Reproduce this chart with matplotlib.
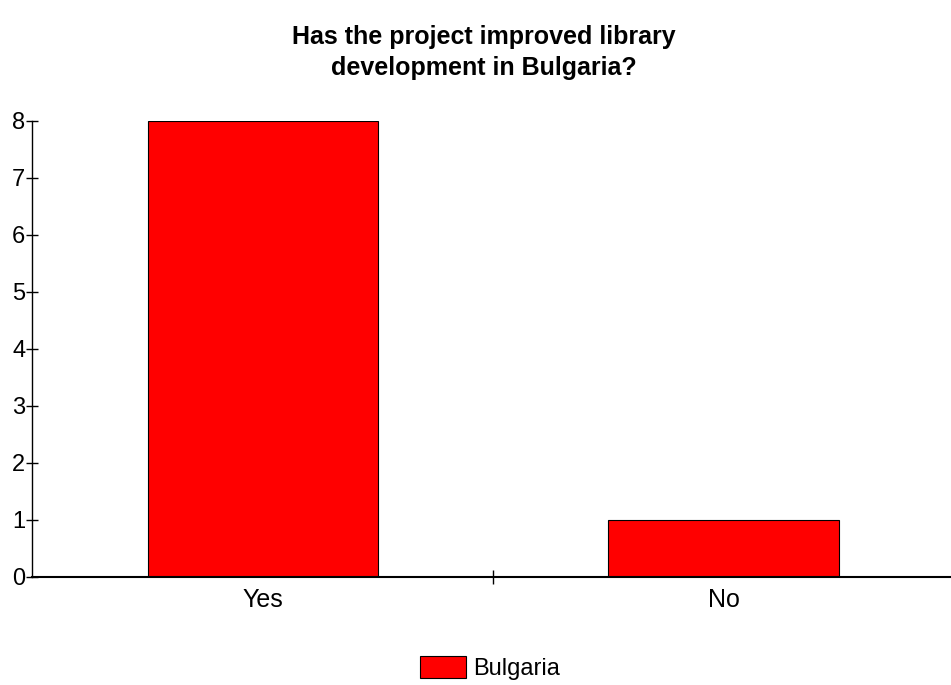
# Bar chart: project impact on library development
import matplotlib
matplotlib.use("Agg")
import matplotlib.pyplot as plt

# data
categories = ["Yes", "No"]
values = [8, 1]
series_name = "Bulgaria"
y_ticks = [0, 1, 2, 3, 4, 5, 6, 7, 8]

plt.rcParams['font.family'] = ['Liberation Sans', 'DejaVu Sans']

fig = plt.figure(figsize=(9.51, 6.85), dpi=100)
ax = fig.add_axes([0.0341, 0.1577, 0.969, 0.6657])

x = list(range(len(categories)))
ax.bar(x, values, width=0.5, color='#ff0000', edgecolor='black',
       linewidth=0.8, label=series_name)

ax.set_xlim(-0.5, len(categories) - 0.5)
ax.set_ylim(0, 8)
ax.set_yticks(y_ticks)
ax.tick_params(axis='y', direction='inout', length=8, width=1, labelsize=17, pad=1)
# category labels without ticks, separator ticks between categories
ax.set_xticks(x)
ax.set_xticklabels(categories, fontsize=18)
ax.tick_params(axis='x', length=0, pad=8)
ax.set_xticks([0.5], minor=True)
ax.tick_params(axis='x', which='minor', direction='inout', length=10, width=1)

for s in ['top', 'right']:
    ax.spines[s].set_visible(False)
ax.spines['left'].set_linewidth(1)
ax.spines['bottom'].set_linewidth(1.5)

fig.suptitle("Has the project improved library\ndevelopment in Bulgaria?",
             x=0.509, y=0.963, fontsize=18, fontweight='bold', linespacing=1.35)

fig.legend(loc='center', bbox_to_anchor=(0.515, 0.025), frameon=False,
           fontsize=17, handlelength=1.95, handleheight=1.05, handletextpad=0.3)

fig.savefig("out.png", dpi=100)
